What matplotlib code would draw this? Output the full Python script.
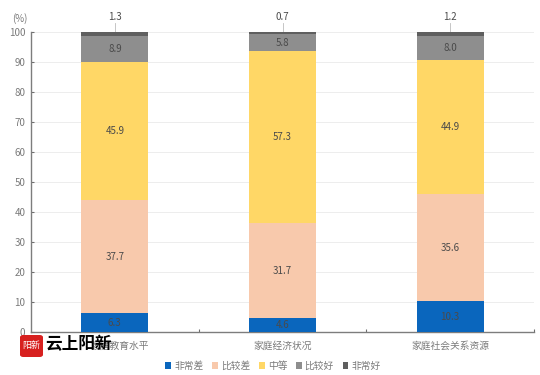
import numpy as np
from matplotlib import pyplot as plt
from matplotlib.patches import FancyBboxPatch
from matplotlib.transforms import ScaledTranslation

plt.rcParams['font.family'] = ['Noto Sans CJK SC', 'DejaVu Sans']

categories = ['家庭教育水平', '家庭经济状况', '家庭社会关系资源']
levels = ['非常差', '比较差', '中等', '比较好', '非常好']
very_bad = [6.3, 4.6, 10.3]
bad = [37.7, 31.7, 35.6]
medium = [45.9, 57.3, 44.9]
good = [8.9, 5.8, 8.0]
very_good = [1.3, 0.7, 1.2]
colors = ['#0A66BD', '#F8C9AC', '#FFD766', '#8E8E8E', '#5F5F5F']
text_color = '#7A7A7A'

fig = plt.figure(figsize=(5.4, 3.75), dpi=100)
ax = fig.add_axes([31 / 540, 1 - 332 / 375, 503 / 540, 300 / 375])

x = np.arange(3)
series = [very_bad, bad, medium, good, very_good]
bottom = np.zeros(3)
for vals, color, name in zip(series, colors, levels):
    ax.bar(x, vals, 0.4, bottom=bottom, color=color, label=name, zorder=3)
    if name != '非常好':
        for xi, b, v in zip(x, bottom, vals):
            ax.text(xi, b + v / 2, f'{v:.1f}', ha='center', va='center',
                    fontsize=7, color='#4A4A4A', zorder=4)
    bottom += np.array(vals)

# smallest segment labels sit above the bars with a short leader
for xi, v in zip(x, very_good):
    ax.plot([xi, xi], [100, 103], color='#BDBDBD', lw=0.6, clip_on=False)
    ax.text(xi, 105, f'{v:.1f}', ha='center', va='center', fontsize=7, color='#4A4A4A')

ax.set_xlim(-0.5, 2.5)
ax.set_ylim(0, 100)
ax.set_yticks(range(0, 101, 10))
ax.set_xticks(x)
ax.set_xticklabels(categories)
ax.set_xticks([0.5, 1.5, 2.5], minor=True)
ax.tick_params(axis='x', which='major', length=0, labelsize=7, labelcolor=text_color, pad=6)
ax.tick_params(axis='x', which='minor', length=2.5, direction='in', color='#6E6E6E', width=0.8)
ax.tick_params(axis='y', length=2.5, direction='in', color='#6E6E6E', width=0.8, labelsize=7,
               labelcolor=text_color, pad=4)
ax.grid(axis='y', color='#EDEDED', lw=0.7, zorder=0)
for side in ['top', 'right']:
    ax.spines[side].set_visible(False)
for side in ['left', 'bottom']:
    ax.spines[side].set_color('#7D7D7D')
    ax.spines[side].set_linewidth(1.0)

# first label is a little right of its bar in the picture
first = ax.get_xticklabels()[0]
first.set_transform(first.get_transform() + ScaledTranslation(5 / 100, 0, fig.dpi_scale_trans))

fig.text(20 / 540, 1 - 19 / 375, '(%)', ha='center', va='center', fontsize=7, color=text_color)

fig.legend(loc='center', bbox_to_anchor=(273 / 540, 1 - 366 / 375), ncol=5, frameon=False,
           fontsize=7, labelcolor=text_color, handlelength=0.6, handleheight=0.6,
           handletextpad=0.3, columnspacing=0.9, borderpad=0)

# watermark logo in the lower left corner
logo = FancyBboxPatch((20 / 540, 1 - 357 / 375), 23 / 540, 22 / 375, transform=fig.transFigure,
                      boxstyle='round,pad=0,rounding_size=0.006', fc='#D7201F', ec='none', zorder=10)
fig.add_artist(logo)
fig.text(31.5 / 540, 1 - 345 / 375, '阳新', ha='center', va='center', fontsize=6.5, color='white',
         zorder=11)
fig.text(45 / 540, 1 - 344 / 375, '云上阳新', ha='left', va='center', fontsize=12, color='black',
         fontweight='bold', zorder=11)

fig.savefig('out.png', dpi=100)
